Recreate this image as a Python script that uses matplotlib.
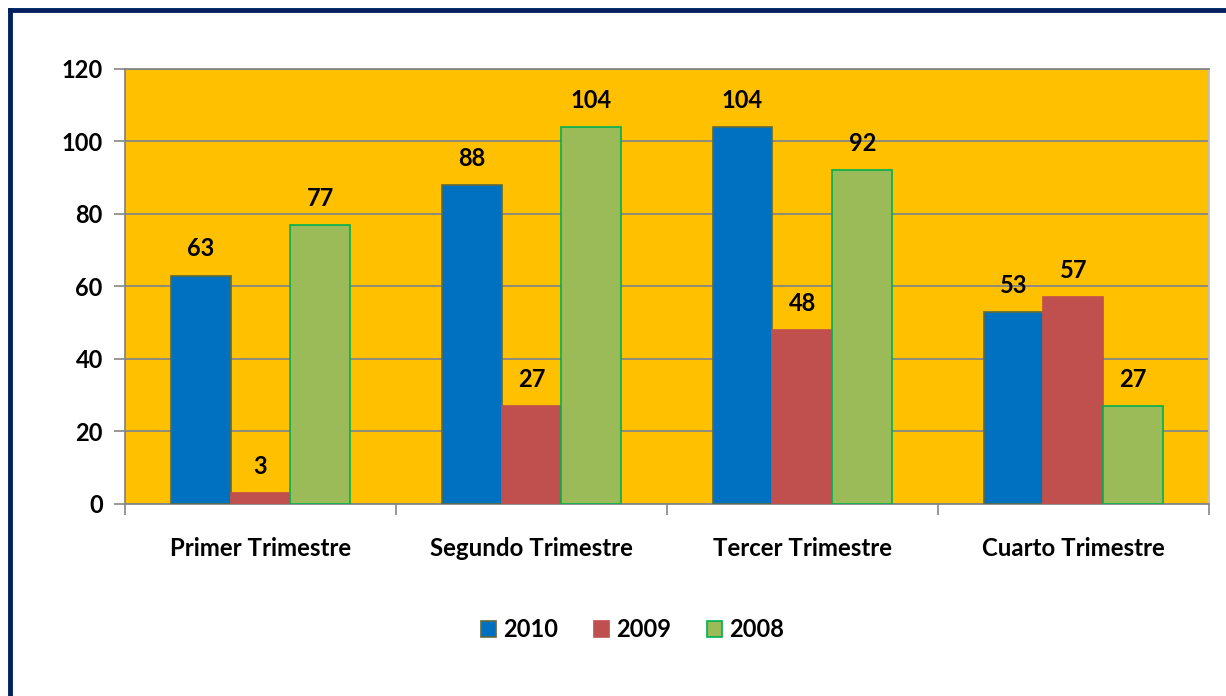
import matplotlib.pyplot as plt
import numpy as np
from matplotlib.lines import Line2D
from matplotlib.patches import Patch

# trimestres y series
categories = ['Primer Trimestre', 'Segundo Trimestre', 'Tercer Trimestre', 'Cuarto Trimestre']
years = ['2010', '2009', '2008']
v2010 = [63, 88, 104, 53]
v2009 = [3, 27, 48, 57]
v2008 = [77, 104, 92, 27]

colors = ['#0070C0', '#C0504D', '#9BBB59']
edges = ['#5F6A3A', '#C0504D', '#00B050']

plt.rcParams['font.family'] = ['Lato', 'DejaVu Sans']
WT = 'bold'

fig = plt.figure(figsize=(12.26, 6.96), dpi=100)
ax = fig.add_axes([0.102, 0.276, 0.884, 0.625])
ax.set_facecolor('#FFC000')

x = np.arange(len(categories))
w = 0.221
series = [v2010, v2009, v2008]
for i, vals in enumerate(series):
    bars = ax.bar(x + (i - 1) * w, vals, w, color=colors[i], edgecolor=edges[i],
                  linewidth=1.2, label=years[i], zorder=3)
    for b, v in zip(bars, vals):
        ax.annotate(str(v), (b.get_x() + b.get_width() / 2, v), xytext=(0, 11),
                    textcoords='offset points', ha='center', va='bottom',
                    fontsize=17, fontweight=WT)

ax.set_ylim(0, 120)
ax.set_xlim(-0.5, 3.5)
ax.set_yticks(range(0, 121, 20))
ax.yaxis.grid(True, color='#868686', linewidth=1.3, zorder=0)
ax.set_axisbelow(True)
ax.tick_params(axis='y', length=8, width=1.2, color='#868686', labelsize=17, pad=8)
for t in ax.get_yticklabels():
    t.set_fontweight(WT)

ax.set_xticks(np.arange(-0.5, 4, 1))
ax.set_xticklabels([])
ax.tick_params(axis='x', which='major', length=8, width=1.2, color='#868686')
ax.set_xticks(x, minor=True)
ax.set_xticklabels(categories, minor=True, fontsize=17.3, fontweight=WT)
ax.tick_params(axis='x', which='minor', length=0, pad=24)

for s in ax.spines.values():
    s.set_color('#868686')
    s.set_linewidth(1.3)
ax.spines['right'].set_color('#BFBFBF')

handles = [Patch(facecolor=colors[i], edgecolor=edges[i], linewidth=1.2, label=years[i])
           for i in range(3)]
fig.legend(handles=handles, loc='center', bbox_to_anchor=(0.516, 0.095), ncol=3,
           frameon=False, handlelength=0.65, handleheight=0.65,
           handletextpad=0.3, columnspacing=1.5, prop={'weight': WT, 'size': 17})

# marco azul oscuro
fig.add_artist(Line2D([10 / 1226, 1], [1 - 10 / 696, 1 - 10 / 696], color='#002060',
                      linewidth=3.5, transform=fig.transFigure))
fig.add_artist(Line2D([10 / 1226, 10 / 1226], [0, 1 - 10 / 696], color='#002060',
                      linewidth=3.5, transform=fig.transFigure))

fig.savefig('out.png', dpi=100)
